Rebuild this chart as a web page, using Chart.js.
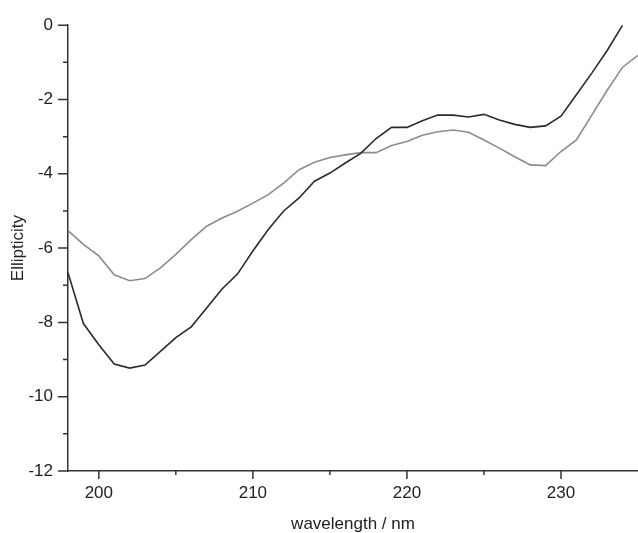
<!DOCTYPE html>
<html>
<head>
<meta charset="utf-8">
<script src="https://cdn.jsdelivr.net/npm/chart.js@4/dist/chart.umd.min.js"></script>
<style>
  html, body { margin: 0; padding: 0; background: #fff; overflow: hidden; }
</style>
</head>
<body>
<canvas id="cdChart" width="638" height="533"></canvas>
<script>
// wavelengths (nm), one reading per nm
var wavelengths = [198, 199, 200, 201, 202, 203, 204, 205, 206, 207, 208, 209, 210,
  211, 212, 213, 214, 215, 216, 217, 218, 219, 220, 221, 222, 223, 224, 225,
  226, 227, 228, 229, 230, 231, 232, 233, 234, 235];

// dark trace (stops at 234 nm)
var darkValues = [-6.66, -8.03, -8.6, -9.12, -9.23, -9.15, -8.78, -8.41, -8.12, -7.61,
  -7.1, -6.7, -6.08, -5.5, -5.0, -4.65, -4.2, -3.98, -3.71, -3.45, -3.05, -2.75,
  -2.75, -2.57, -2.42, -2.42, -2.47, -2.4, -2.55, -2.67, -2.75, -2.71, -2.45,
  -1.87, -1.29, -0.68, 0];

// light grey trace
var greyValues = [-5.53, -5.9, -6.21, -6.72, -6.88, -6.82, -6.53, -6.17, -5.77, -5.41,
  -5.19, -5.01, -4.79, -4.56, -4.25, -3.89, -3.69, -3.56, -3.49, -3.43, -3.43, -3.24,
  -3.13, -2.96, -2.87, -2.82, -2.88, -3.09, -3.31, -3.54, -3.76, -3.78, -3.4,
  -3.09, -2.42, -1.75, -1.13, -0.81];

var xMajorTicks = [200, 210, 220, 230];
var xMinorTicks = [205, 215, 225];
var yMajorTicks = [-12, -10, -8, -6, -4, -2, 0];
var yMinorTicks = [-11, -9, -7, -5, -3, -1];

var fontFamily = '"Liberation Sans", Arial, sans-serif';
var axisColor = '#333';

function toPoints(values) {
  var pts = [];
  for (var i = 0; i < values.length; i++) {
    pts.push({x: wavelengths[i], y: values[i]});
  }
  return pts;
}

function tickList(major, minor) {
  return major.concat(minor).sort(function(a, b) { return a - b; })
    .map(function(v) { return {value: v}; });
}

// draws outward tick marks, long on labelled values, short on the rest
var tickMarks = {
  id: 'tickMarks',
  afterDraw: function(chart) {
    var ctx = chart.ctx;
    var xs = chart.scales.x, ys = chart.scales.y;
    ctx.save();
    ctx.strokeStyle = axisColor;
    ctx.lineWidth = 1.5;
    ctx.beginPath();
    xs.ticks.forEach(function(t) {
      var px = xs.getPixelForValue(t.value);
      var len = xMajorTicks.indexOf(t.value) >= 0 ? 8 : 4;
      ctx.moveTo(px, xs.top);
      ctx.lineTo(px, xs.top + len);
    });
    ys.ticks.forEach(function(t) {
      var py = ys.getPixelForValue(t.value);
      var len = yMajorTicks.indexOf(t.value) >= 0 ? 10 : 5;
      ctx.moveTo(ys.right, py);
      ctx.lineTo(ys.right - len, py);
    });
    ctx.stroke();
    ctx.restore();
  }
};

var ctx = document.getElementById('cdChart').getContext('2d');
var chart = new Chart(ctx, {
  type: 'line',
  data: {
    datasets: [{
      label: 'dark',
      data: toPoints(darkValues),
      borderColor: '#2b2b2b',
      borderWidth: 1.6,
      pointRadius: 0,
      tension: 0,
      fill: false
    }, {
      label: 'grey',
      data: toPoints(greyValues),
      borderColor: '#8c8c8c',
      borderWidth: 1.6,
      pointRadius: 0,
      tension: 0,
      fill: false
    }]
  },
  options: {
    responsive: false,
    animation: false,
    layout: {padding: {top: 23, right: 0, left: 0, bottom: 0}},
    plugins: {
      legend: {display: false},
      tooltip: {enabled: false}
    },
    scales: {
      x: {
        type: 'linear',
        min: 198,
        max: 235,
        afterBuildTicks: function(scale) { scale.ticks = tickList(xMajorTicks, xMinorTicks); },
        afterFit: function(scale) { scale.height = 62; },
        grid: {display: true, drawOnChartArea: false, drawTicks: false},
        border: {display: true, color: axisColor, width: 1.5},
        ticks: {
          padding: 12,
          color: '#222',
          font: {family: fontFamily, size: 17},
          maxRotation: 0,
          callback: function(v) { return xMajorTicks.indexOf(v) >= 0 ? String(v) : ''; }
        },
        title: {
          display: true,
          text: 'wavelength / nm',
          color: '#222',
          font: {family: fontFamily, size: 17, lineHeight: 1},
          padding: {top: 0, bottom: 0}
        }
      },
      y: {
        min: -12,
        max: 0,
        afterBuildTicks: function(scale) { scale.ticks = tickList(yMajorTicks, yMinorTicks); },
        afterFit: function(scale) { scale.width = 68; },
        grid: {display: true, drawOnChartArea: false, drawTicks: false},
        border: {display: true, color: axisColor, width: 1.5},
        ticks: {
          padding: 15,
          color: '#222',
          font: {family: fontFamily, size: 17},
          callback: function(v) { return yMajorTicks.indexOf(v) >= 0 ? String(v) : ''; }
        },
        title: {
          display: true,
          text: 'Ellipticity',
          color: '#222',
          font: {family: fontFamily, size: 17, lineHeight: 1},
          padding: {top: 10, bottom: 0}
        }
      }
    }
  },
  plugins: [tickMarks]
});
</script>
</body>
</html>
